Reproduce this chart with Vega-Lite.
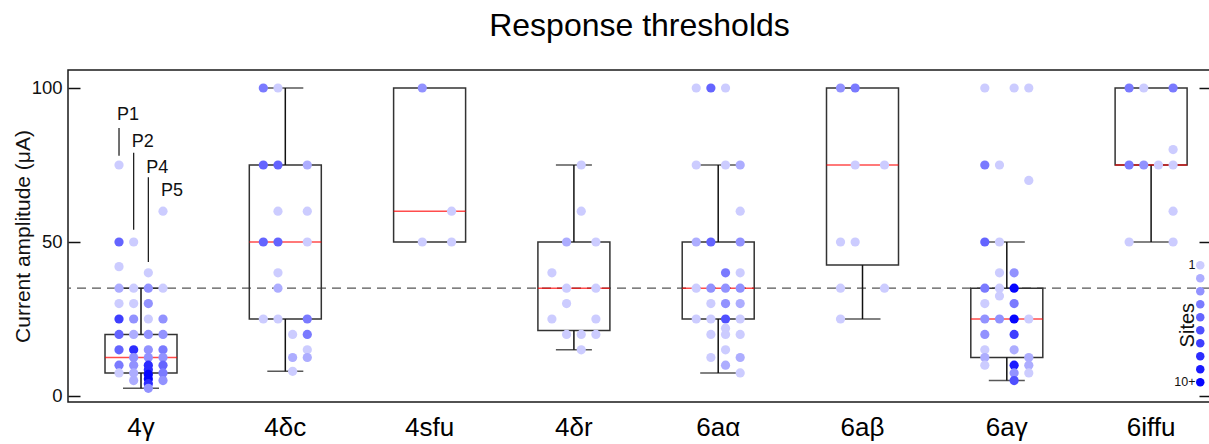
{
  "$schema": "https://vega.github.io/schema/vega-lite/v6.json",
  "width": 1143,
  "height": 332,
  "autosize": {"type": "none"},
  "padding": {"left": 68, "top": 70, "right": 0, "bottom": 42},
  "background": "white",
  "config": {
    "font": "Liberation Sans",
    "view": {"stroke": "#1a1a1a", "strokeWidth": 1.5},
    "axis": {"labelFont": "Liberation Sans", "titleFont": "Liberation Sans", "labelColor": "#111", "titleColor": "#111", "titleFontWeight": "normal", "grid": false}
  },
  "title": {"text": "Response thresholds", "fontSize": 32, "fontWeight": "normal", "font": "Liberation Sans", "color": "#000", "anchor": "middle", "offset": 27},
  "datasets": {
    "threshold": [{"t": 35}],
    "sitesTitle": [{"g": "6iffu", "p": "legend", "v": 23, "label": "Sites"}],
    "boxes": [
      {"g": "4γ", "q1": 7.5, "med": 12.5, "q3": 20},
      {"g": "4δc", "q1": 25, "med": 50, "q3": 75},
      {"g": "4sfu", "q1": 50, "med": 60, "q3": 100},
      {"g": "4δr", "q1": 21.25, "med": 35, "q3": 50},
      {"g": "6aα", "q1": 25, "med": 35, "q3": 50},
      {"g": "6aβ", "q1": 42.5, "med": 75, "q3": 100},
      {"g": "6aγ", "q1": 12.5, "med": 25, "q3": 35},
      {"g": "6iffu", "q1": 75, "med": 75, "q3": 100}
    ],
    "whiskers": [
      {"g": "4γ", "from": 20, "to": 35}, {"g": "4γ", "from": 7.5, "to": 2.5},
      {"g": "4δc", "from": 75, "to": 100}, {"g": "4δc", "from": 25, "to": 8},
      {"g": "4δr", "from": 50, "to": 75}, {"g": "4δr", "from": 21.25, "to": 15},
      {"g": "6aα", "from": 50, "to": 75}, {"g": "6aα", "from": 25, "to": 7.5},
      {"g": "6aβ", "from": 42.5, "to": 25},
      {"g": "6aγ", "from": 35, "to": 50}, {"g": "6aγ", "from": 12.5, "to": 5},
      {"g": "6iffu", "from": 75, "to": 50}
    ],
    "annotations": [
      {"g": "4γ", "p": "P1", "label": "P1", "ty": 89.6, "top": 87, "bot": 78},
      {"g": "4γ", "p": "P2", "label": "P2", "ty": 80.8, "top": 79, "bot": 54},
      {"g": "4γ", "p": "P4", "label": "P4", "ty": 72.4, "top": 71, "bot": 43.5},
      {"g": "4γ", "p": "P5", "label": "P5", "ty": 64.9, "top": null, "bot": null}
    ],
    "points": [
      {"g": "4γ", "p": "P1", "v": 75, "n": 1}, {"g": "4γ", "p": "P1", "v": 50, "n": 5}, {"g": "4γ", "p": "P1", "v": 42, "n": 1}, {"g": "4γ", "p": "P1", "v": 35, "n": 2}, {"g": "4γ", "p": "P1", "v": 30, "n": 1}, {"g": "4γ", "p": "P1", "v": 25, "n": 7}, {"g": "4γ", "p": "P1", "v": 20, "n": 5}, {"g": "4γ", "p": "P1", "v": 15, "n": 5}, {"g": "4γ", "p": "P1", "v": 10, "n": 4}, {"g": "4γ", "p": "P1", "v": 7.5, "n": 1},
      {"g": "4γ", "p": "P2", "v": 50, "n": 1}, {"g": "4γ", "p": "P2", "v": 35, "n": 1}, {"g": "4γ", "p": "P2", "v": 30, "n": 1}, {"g": "4γ", "p": "P2", "v": 25, "n": 3}, {"g": "4γ", "p": "P2", "v": 20, "n": 2}, {"g": "4γ", "p": "P2", "v": 15, "n": 8}, {"g": "4γ", "p": "P2", "v": 12.5, "n": 3}, {"g": "4γ", "p": "P2", "v": 10, "n": 3}, {"g": "4γ", "p": "P2", "v": 7.5, "n": 2}, {"g": "4γ", "p": "P2", "v": 5, "n": 2},
      {"g": "4γ", "p": "P4", "v": 40, "n": 1}, {"g": "4γ", "p": "P4", "v": 35, "n": 3}, {"g": "4γ", "p": "P4", "v": 30, "n": 3}, {"g": "4γ", "p": "P4", "v": 25, "n": 1}, {"g": "4γ", "p": "P4", "v": 20, "n": 3}, {"g": "4γ", "p": "P4", "v": 15, "n": 3}, {"g": "4γ", "p": "P4", "v": 12.5, "n": 3}, {"g": "4γ", "p": "P4", "v": 10, "n": 8}, {"g": "4γ", "p": "P4", "v": 8.5, "n": 8}, {"g": "4γ", "p": "P4", "v": 7, "n": 10}, {"g": "4γ", "p": "P4", "v": 5.5, "n": 10}, {"g": "4γ", "p": "P4", "v": 4, "n": 8}, {"g": "4γ", "p": "P4", "v": 2.5, "n": 3},
      {"g": "4γ", "p": "P5", "v": 60, "n": 1}, {"g": "4γ", "p": "P5", "v": 35, "n": 1}, {"g": "4γ", "p": "P5", "v": 25, "n": 3}, {"g": "4γ", "p": "P5", "v": 20, "n": 3}, {"g": "4γ", "p": "P5", "v": 15, "n": 4}, {"g": "4γ", "p": "P5", "v": 12.5, "n": 3}, {"g": "4γ", "p": "P5", "v": 10, "n": 5}, {"g": "4γ", "p": "P5", "v": 7.5, "n": 4}, {"g": "4γ", "p": "P5", "v": 5, "n": 3},
      {"g": "4δc", "p": "P1", "v": 100, "n": 4}, {"g": "4δc", "p": "P1", "v": 75, "n": 5}, {"g": "4δc", "p": "P1", "v": 50, "n": 5}, {"g": "4δc", "p": "P1", "v": 25, "n": 1},
      {"g": "4δc", "p": "P2", "v": 100, "n": 1}, {"g": "4δc", "p": "P2", "v": 75, "n": 5}, {"g": "4δc", "p": "P2", "v": 60, "n": 1}, {"g": "4δc", "p": "P2", "v": 50, "n": 5}, {"g": "4δc", "p": "P2", "v": 40, "n": 1}, {"g": "4δc", "p": "P2", "v": 35, "n": 2}, {"g": "4δc", "p": "P2", "v": 25, "n": 1},
      {"g": "4δc", "p": "P4", "v": 20, "n": 1}, {"g": "4δc", "p": "P4", "v": 12.5, "n": 2}, {"g": "4δc", "p": "P4", "v": 8, "n": 1},
      {"g": "4δc", "p": "P5", "v": 75, "n": 2}, {"g": "4δc", "p": "P5", "v": 60, "n": 1}, {"g": "4δc", "p": "P5", "v": 50, "n": 1}, {"g": "4δc", "p": "P5", "v": 25, "n": 4}, {"g": "4δc", "p": "P5", "v": 20, "n": 4}, {"g": "4δc", "p": "P5", "v": 15, "n": 1}, {"g": "4δc", "p": "P5", "v": 12.5, "n": 2},
      {"g": "4sfu", "p": "P2", "v": 100, "n": 3}, {"g": "4sfu", "p": "P2", "v": 50, "n": 1},
      {"g": "4sfu", "p": "P5", "v": 60, "n": 1}, {"g": "4sfu", "p": "P5", "v": 50, "n": 1},
      {"g": "4δr", "p": "P1", "v": 40, "n": 1}, {"g": "4δr", "p": "P1", "v": 25, "n": 1},
      {"g": "4δr", "p": "P2", "v": 50, "n": 2}, {"g": "4δr", "p": "P2", "v": 35, "n": 1}, {"g": "4δr", "p": "P2", "v": 30, "n": 1}, {"g": "4δr", "p": "P2", "v": 20, "n": 1},
      {"g": "4δr", "p": "P4", "v": 75, "n": 1}, {"g": "4δr", "p": "P4", "v": 60, "n": 1}, {"g": "4δr", "p": "P4", "v": 20, "n": 1}, {"g": "4δr", "p": "P4", "v": 15, "n": 1},
      {"g": "4δr", "p": "P5", "v": 50, "n": 1}, {"g": "4δr", "p": "P5", "v": 35, "n": 1}, {"g": "4δr", "p": "P5", "v": 25, "n": 1}, {"g": "4δr", "p": "P5", "v": 20, "n": 1},
      {"g": "6aα", "p": "P1", "v": 100, "n": 1}, {"g": "6aα", "p": "P1", "v": 75, "n": 1}, {"g": "6aα", "p": "P1", "v": 50, "n": 2}, {"g": "6aα", "p": "P1", "v": 35, "n": 1}, {"g": "6aα", "p": "P1", "v": 25, "n": 1},
      {"g": "6aα", "p": "P2", "v": 100, "n": 5}, {"g": "6aα", "p": "P2", "v": 50, "n": 5}, {"g": "6aα", "p": "P2", "v": 35, "n": 3}, {"g": "6aα", "p": "P2", "v": 30, "n": 1}, {"g": "6aα", "p": "P2", "v": 25, "n": 1}, {"g": "6aα", "p": "P2", "v": 20, "n": 1}, {"g": "6aα", "p": "P2", "v": 12.5, "n": 1},
      {"g": "6aα", "p": "P4", "v": 100, "n": 1}, {"g": "6aα", "p": "P4", "v": 75, "n": 1}, {"g": "6aα", "p": "P4", "v": 40, "n": 4}, {"g": "6aα", "p": "P4", "v": 35, "n": 3}, {"g": "6aα", "p": "P4", "v": 30, "n": 3}, {"g": "6aα", "p": "P4", "v": 25, "n": 6}, {"g": "6aα", "p": "P4", "v": 22, "n": 1}, {"g": "6aα", "p": "P4", "v": 20, "n": 1}, {"g": "6aα", "p": "P4", "v": 15, "n": 1}, {"g": "6aα", "p": "P4", "v": 10, "n": 2},
      {"g": "6aα", "p": "P5", "v": 75, "n": 2}, {"g": "6aα", "p": "P5", "v": 60, "n": 1}, {"g": "6aα", "p": "P5", "v": 50, "n": 3}, {"g": "6aα", "p": "P5", "v": 40, "n": 1}, {"g": "6aα", "p": "P5", "v": 35, "n": 3}, {"g": "6aα", "p": "P5", "v": 30, "n": 2}, {"g": "6aα", "p": "P5", "v": 25, "n": 1}, {"g": "6aα", "p": "P5", "v": 20, "n": 1}, {"g": "6aα", "p": "P5", "v": 12.5, "n": 2}, {"g": "6aα", "p": "P5", "v": 7.5, "n": 1},
      {"g": "6aβ", "p": "P1", "v": 100, "n": 3}, {"g": "6aβ", "p": "P1", "v": 50, "n": 1}, {"g": "6aβ", "p": "P1", "v": 35, "n": 1}, {"g": "6aβ", "p": "P1", "v": 25, "n": 1},
      {"g": "6aβ", "p": "P2", "v": 100, "n": 4}, {"g": "6aβ", "p": "P2", "v": 75, "n": 1}, {"g": "6aβ", "p": "P2", "v": 50, "n": 1},
      {"g": "6aβ", "p": "P5", "v": 75, "n": 1}, {"g": "6aβ", "p": "P5", "v": 35, "n": 1},
      {"g": "6aγ", "p": "P1", "v": 100, "n": 1}, {"g": "6aγ", "p": "P1", "v": 75, "n": 4}, {"g": "6aγ", "p": "P1", "v": 50, "n": 5}, {"g": "6aγ", "p": "P1", "v": 35, "n": 4}, {"g": "6aγ", "p": "P1", "v": 30, "n": 1}, {"g": "6aγ", "p": "P1", "v": 25, "n": 3}, {"g": "6aγ", "p": "P1", "v": 20, "n": 3}, {"g": "6aγ", "p": "P1", "v": 15, "n": 1}, {"g": "6aγ", "p": "P1", "v": 12.5, "n": 2}, {"g": "6aγ", "p": "P1", "v": 10, "n": 1},
      {"g": "6aγ", "p": "P2", "v": 75, "n": 1}, {"g": "6aγ", "p": "P2", "v": 50, "n": 1}, {"g": "6aγ", "p": "P2", "v": 40, "n": 1}, {"g": "6aγ", "p": "P2", "v": 35, "n": 1}, {"g": "6aγ", "p": "P2", "v": 32.5, "n": 1}, {"g": "6aγ", "p": "P2", "v": 25, "n": 3},
      {"g": "6aγ", "p": "P4", "v": 100, "n": 1}, {"g": "6aγ", "p": "P4", "v": 40, "n": 3}, {"g": "6aγ", "p": "P4", "v": 35, "n": 10}, {"g": "6aγ", "p": "P4", "v": 30, "n": 4}, {"g": "6aγ", "p": "P4", "v": 25, "n": 10}, {"g": "6aγ", "p": "P4", "v": 20, "n": 7}, {"g": "6aγ", "p": "P4", "v": 15, "n": 2}, {"g": "6aγ", "p": "P4", "v": 10, "n": 9}, {"g": "6aγ", "p": "P4", "v": 7.5, "n": 3}, {"g": "6aγ", "p": "P4", "v": 5, "n": 6},
      {"g": "6aγ", "p": "P5", "v": 100, "n": 1}, {"g": "6aγ", "p": "P5", "v": 70, "n": 1}, {"g": "6aγ", "p": "P5", "v": 25, "n": 1}, {"g": "6aγ", "p": "P5", "v": 12.5, "n": 2}, {"g": "6aγ", "p": "P5", "v": 10, "n": 2}, {"g": "6aγ", "p": "P5", "v": 7.5, "n": 1},
      {"g": "6iffu", "p": "P1", "v": 100, "n": 4}, {"g": "6iffu", "p": "P1", "v": 75, "n": 4}, {"g": "6iffu", "p": "P1", "v": 50, "n": 1},
      {"g": "6iffu", "p": "P2", "v": 100, "n": 1}, {"g": "6iffu", "p": "P2", "v": 75, "n": 3},
      {"g": "6iffu", "p": "P4", "v": 75, "n": 1},
      {"g": "6iffu", "p": "P5", "v": 100, "n": 4}, {"g": "6iffu", "p": "P5", "v": 80, "n": 1}, {"g": "6iffu", "p": "P5", "v": 75, "n": 1}, {"g": "6iffu", "p": "P5", "v": 60, "n": 1}, {"g": "6iffu", "p": "P5", "v": 50, "n": 1}
    ]
  },
  "layer": [
    {
      "data": {"name": "threshold"},
      "mark": {"type": "rule", "strokeDash": [9, 6], "color": "#555555", "strokeWidth": 1.2},
      "encoding": {
        "y": {"field": "t", "type": "quantitative", "scale": {"domain": [-1.95, 105.84], "nice": false, "zero": false},
              "axis": {"orient": "right", "values": [0, 50, 100], "labels": false, "domain": false, "title": null, "tickSize": -12, "tickColor": "#111", "tickWidth": 1.5}}
      }
    },
    {
      "layer": [
        {
          "data": {"name": "boxes"},
          "mark": {"type": "bar", "fill": "white", "fillOpacity": 0, "stroke": "#333333", "strokeWidth": 1.5, "width": 72},
          "encoding": {
            "x": {"field": "g", "type": "nominal", "sort": ["4γ", "4δc", "4sfu", "4δr", "6aα", "6aβ", "6aγ", "6iffu"],
                  "scale": {"domain": ["4γ", "4δc", "4sfu", "4δr", "6aα", "6aβ", "6aγ", "6iffu"], "paddingInner": 0.492, "paddingOuter": 0.2065, "align": 0.61},
                  "axis": {"title": null, "labelAngle": 0, "labelFontSize": 26, "labelColor": "#000", "ticks": false, "domain": false, "labelPadding": 12}},
            "y": {"field": "q1", "type": "quantitative", "scale": {"domain": [-1.95, 105.84], "nice": false, "zero": false},
                  "axis": {"orient": "left", "values": [0, 50, 100], "title": "Current amplitude (μA)", "titleFontSize": 21, "titlePadding": -2, "labelFontSize": 18.5, "labelPadding": 18, "tickSize": -12, "tickColor": "#111", "tickWidth": 1.5, "domain": false}},
            "y2": {"field": "q3"}
          }
        },
        {
          "data": {"name": "whiskers"},
          "mark": {"type": "rule", "color": "#111111", "strokeWidth": 1.5},
          "encoding": {
            "x": {"field": "g", "type": "nominal", "sort": ["4γ", "4δc", "4sfu", "4δr", "6aα", "6aβ", "6aγ", "6iffu"], "scale": {"domain": ["4γ", "4δc", "4sfu", "4δr", "6aα", "6aβ", "6aγ", "6iffu"]}},
            "y": {"field": "from", "type": "quantitative"},
            "y2": {"field": "to"}
          }
        },
        {
          "data": {"name": "whiskers"},
          "mark": {"type": "tick", "color": "#111111", "thickness": 1.5, "size": 36, "orient": "horizontal"},
          "encoding": {
            "x": {"field": "g", "type": "nominal", "sort": ["4γ", "4δc", "4sfu", "4δr", "6aα", "6aβ", "6aγ", "6iffu"], "scale": {"domain": ["4γ", "4δc", "4sfu", "4δr", "6aα", "6aβ", "6aγ", "6iffu"]}},
            "y": {"field": "to", "type": "quantitative"}
          }
        },
        {
          "data": {"name": "boxes"},
          "mark": {"type": "tick", "color": "#ff0000", "thickness": 1.5, "size": 72, "orient": "horizontal"},
          "encoding": {
            "x": {"field": "g", "type": "nominal", "sort": ["4γ", "4δc", "4sfu", "4δr", "6aα", "6aβ", "6aγ", "6iffu"], "scale": {"domain": ["4γ", "4δc", "4sfu", "4δr", "6aα", "6aβ", "6aγ", "6iffu"]}},
            "y": {"field": "med", "type": "quantitative"}
          }
        },
        {
          "data": {"name": "annotations"},
          "mark": {"type": "rule", "color": "#111111", "strokeWidth": 1.2},
          "encoding": {
            "x": {"field": "g", "type": "nominal", "sort": ["4γ", "4δc", "4sfu", "4δr", "6aα", "6aβ", "6aγ", "6iffu"], "scale": {"domain": ["4γ", "4δc", "4sfu", "4δr", "6aα", "6aβ", "6aγ", "6iffu"]}},
            "xOffset": {"field": "p", "type": "nominal", "scale": {"type": "point", "domain": ["P1", "P2", "P4", "P5", "legend"], "padding": 0.5, "align": 1}},
            "y": {"field": "top", "type": "quantitative"},
            "y2": {"field": "bot"}
          }
        },
        {
          "data": {"name": "annotations"},
          "mark": {"type": "text", "align": "left", "baseline": "alphabetic", "dx": -2, "fontSize": 18, "font": "Liberation Sans", "color": "#111111"},
          "encoding": {
            "x": {"field": "g", "type": "nominal", "sort": ["4γ", "4δc", "4sfu", "4δr", "6aα", "6aβ", "6aγ", "6iffu"], "scale": {"domain": ["4γ", "4δc", "4sfu", "4δr", "6aα", "6aβ", "6aγ", "6iffu"]}},
            "xOffset": {"field": "p", "type": "nominal", "scale": {"type": "point", "domain": ["P1", "P2", "P4", "P5", "legend"], "padding": 0.5, "align": 1}},
            "y": {"field": "ty", "type": "quantitative"},
            "text": {"field": "label"}
          }
        },
        {
          "data": {"name": "sitesTitle"},
          "mark": {"type": "text", "align": "center", "baseline": "middle", "angle": 270, "fontSize": 20, "font": "Liberation Sans", "color": "#111111"},
          "encoding": {
            "x": {"field": "g", "type": "nominal", "sort": ["4γ", "4δc", "4sfu", "4δr", "6aα", "6aβ", "6aγ", "6iffu"], "scale": {"domain": ["4γ", "4δc", "4sfu", "4δr", "6aα", "6aβ", "6aγ", "6iffu"]}},
            "xOffset": {"field": "p", "type": "nominal", "scale": {"type": "point", "domain": ["P1", "P2", "P4", "P5", "legend"], "padding": 0.5, "align": 1}},
            "y": {"field": "v", "type": "quantitative"},
            "text": {"field": "label"}
          }
        },
        {
          "data": {"name": "points"},
          "mark": {"type": "circle", "size": 85, "opacity": 1, "strokeWidth": 0},
          "encoding": {
            "x": {"field": "g", "type": "nominal", "sort": ["4γ", "4δc", "4sfu", "4δr", "6aα", "6aβ", "6aγ", "6iffu"], "scale": {"domain": ["4γ", "4δc", "4sfu", "4δr", "6aα", "6aβ", "6aγ", "6iffu"]}},
            "xOffset": {"field": "p", "type": "nominal", "scale": {"type": "point", "domain": ["P1", "P2", "P4", "P5", "legend"], "padding": 0.5, "align": 1}},
            "y": {"field": "v", "type": "quantitative"},
            "color": {"field": "n", "type": "ordinal",
                      "scale": {"domain": [1, 2, 3, 4, 5, 6, 7, 8, 9, 10], "range": ["#ccccff", "#adadff", "#9292ff", "#7a7aff", "#6464ff", "#5050ff", "#3e3eff", "#2c2cff", "#1a1aff", "#0505ff"]},
                      "legend": {"title": null, "orient": "none", "legendX": 1126, "legendY": 189, "direction": "vertical", "labelFontSize": 12.5, "labelColor": "#111", "labelExpr": "datum.label == '1' ? '1' : (datum.label == '10' ? '10+' : '')", "labelAlign": "right", "labelOffset": -11, "symbolSize": 72, "symbolType": "circle", "symbolStrokeWidth": 0, "rowPadding": 0, "padding": 0}}
          }
        }
      ]
    }
  ],
  "resolve": {"axis": {"y": "independent"}}
}
